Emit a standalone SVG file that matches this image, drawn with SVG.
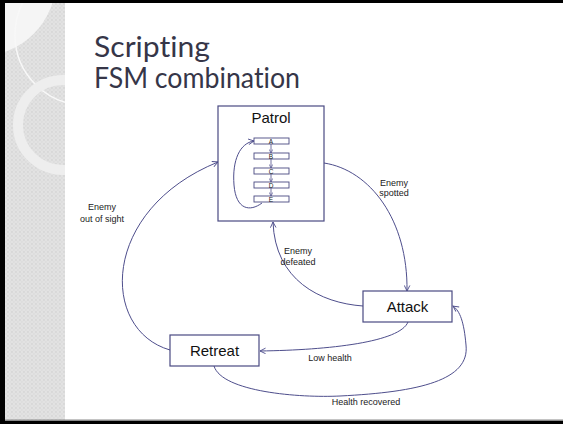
<svg xmlns="http://www.w3.org/2000/svg" width="563" height="424" viewBox="0 0 563 424">
  <defs>
    <pattern id="dots" width="4" height="4" patternUnits="userSpaceOnUse">
      <rect width="4" height="4" fill="#d8d8d8"/>
      <circle cx="2" cy="2" r="1.4" fill="none" stroke="#e8e8e8" stroke-width="0.8"/>
    </pattern>
    <clipPath id="stripClip">
      <rect x="5" y="3" width="60" height="417"/>
    </clipPath>
    <marker id="arrow" viewBox="0 0 10 10" refX="9" refY="5" markerWidth="7" markerHeight="7" orient="auto" markerUnits="userSpaceOnUse">
      <polyline points="1,1 9,5 1,9" fill="none" stroke="#4e4e8c" stroke-width="1.3"/>
    </marker>
    <marker id="arrowSmall" viewBox="0 0 10 10" refX="9" refY="5" markerWidth="4.5" markerHeight="4.5" orient="auto" markerUnits="userSpaceOnUse">
      <polyline points="1,1 9,5 1,9" fill="none" stroke="#4e4e8c" stroke-width="1.5"/>
    </marker>
  </defs>
  <style>
    .title { font-family: "Lato", "Open Sans", sans-serif; font-size: 28px; fill: #363648; font-variant-ligatures: none; }
    .state { fill: #ffffff; stroke: #4a4a82; stroke-width: 1.2; }
    .sub { fill: #ffffff; stroke: #4a4a82; stroke-width: 0.9; }
    .name { font-family: "Liberation Sans", Arial, sans-serif; font-size: 15px; fill: #111111; text-anchor: middle; }
    .tiny { font-family: "Liberation Sans", Arial, sans-serif; font-size: 6.5px; fill: #222222; text-anchor: middle; }
    .label { font-family: "Liberation Sans", Arial, sans-serif; font-size: 9px; fill: #222222; text-anchor: middle; }
    .edge { fill: none; stroke: #4e4e8c; stroke-width: 1; marker-end: url(#arrow); }
    .step { fill: none; stroke: #4e4e8c; stroke-width: 0.8; marker-end: url(#arrowSmall); }
  </style>

  <!-- slide background and frame -->
  <rect x="0" y="0" width="563" height="424" fill="#ffffff"/>
  <g id="side-strip" clip-path="url(#stripClip)">
    <rect x="5" y="3" width="60" height="417" fill="url(#dots)"/>
    <circle cx="-20" cy="-20" r="76" fill="#f5f5f5"/>
    <circle cx="85" cy="35" r="70" fill="none" stroke="#f8f8f8" stroke-width="1.5"/>
    <circle cx="63" cy="125" r="45" fill="none" stroke="#eeeeee" stroke-width="10"/>
  </g>
  <rect x="0" y="0" width="563" height="3" fill="#000000"/>
  <rect x="0" y="0" width="5" height="424" fill="#000000"/>
  <rect x="5" y="419.5" width="558" height="1.5" fill="#8a8a8a"/>
  <rect x="0" y="421" width="563" height="3" fill="#000000"/>

  <!-- heading -->
  <text class="title" x="94" y="57" textLength="116" lengthAdjust="spacingAndGlyphs">Scripting</text>
  <text class="title" x="94" y="88" textLength="206" lengthAdjust="spacingAndGlyphs">FSM combination</text>

  <!-- transitions between states -->
  <g id="connectors">
    <path id="e-spotted" class="edge" d="M324,163 C370,170 408,220 407,291"/>
    <path id="e-defeated" class="edge" d="M363,306 C320,303 275,280 273,222"/>
    <path id="e-outofsight" class="edge" d="M170,350 C100,330 100,210 218,162"/>
    <path id="e-lowhealth" class="edge" d="M408,322 C400,342 330,350 260,351"/>
    <path id="e-recovered" class="edge" d="M214,366 C222,392 300,398 340,396 C420,392 470,380 466,345 C464,322 460,311 453,306"/>
  </g>

  <g id="edge-labels">
    <text class="label" x="394" y="186">Enemy</text>
    <text class="label" x="394" y="196">spotted</text>
    <text class="label" x="298" y="254">Enemy</text>
    <text class="label" x="298" y="265">defeated</text>
    <text class="label" x="102" y="210">Enemy</text>
    <text class="label" x="102" y="222">out of sight</text>
    <text class="label" x="330" y="361">Low health</text>
    <text class="label" x="366" y="405">Health recovered</text>
  </g>

  <!-- Patrol state with its scripted sequence -->
  <g id="patrol">
    <rect class="state" x="218" y="106" width="106" height="115"/>
    <text class="name" x="271" y="123">Patrol</text>
    <rect class="sub" x="254" y="138" width="35" height="6"/>
    <rect class="sub" x="254" y="153" width="35" height="6"/>
    <rect class="sub" x="254" y="168" width="35" height="6"/>
    <rect class="sub" x="254" y="182" width="35" height="6"/>
    <rect class="sub" x="254" y="196" width="35" height="6"/>
    <text class="tiny" x="271" y="143.5">A</text>
    <text class="tiny" x="271" y="158.5">B</text>
    <text class="tiny" x="271" y="173.5">C</text>
    <text class="tiny" x="271" y="187.5">D</text>
    <text class="tiny" x="271" y="201.5">E</text>
    <path class="step" d="M271,144 L271,153"/>
    <path class="step" d="M271,159 L271,168"/>
    <path class="step" d="M271,174 L271,182"/>
    <path class="step" d="M271,188 L271,196"/>
    <path class="edge" d="M262,203 C250,212 236,210 234,185 C232,160 240,143 254,141"/>
  </g>

  <g id="attack">
    <rect class="state" x="363" y="291" width="89" height="31"/>
    <text class="name" x="407.5" y="312">Attack</text>
  </g>

  <g id="retreat">
    <rect class="state" x="170" y="335" width="89" height="31"/>
    <text class="name" x="214.5" y="356">Retreat</text>
  </g>
</svg>
